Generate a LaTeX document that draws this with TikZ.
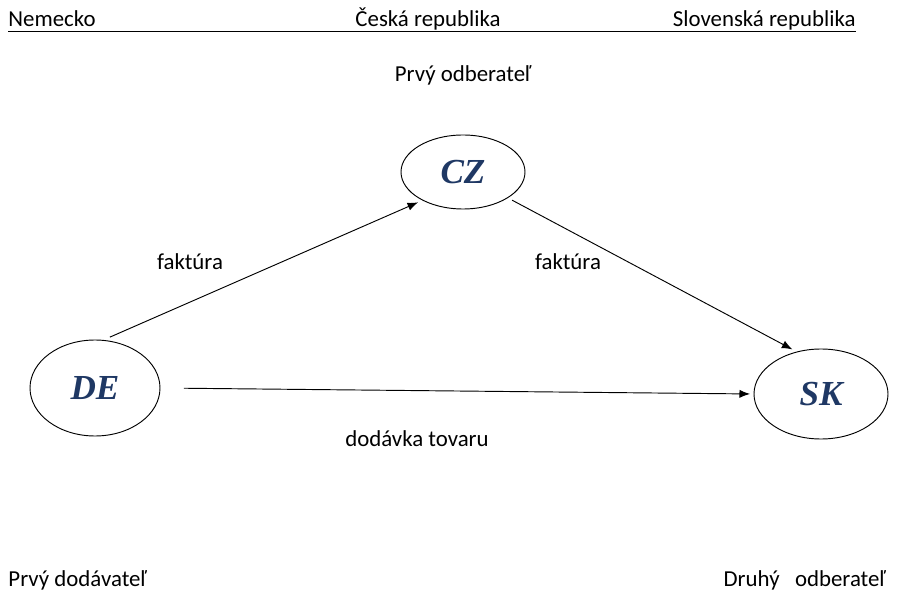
\documentclass[tikz,border=0pt]{standalone}
\usepackage{fontspec}
\setmainfont{Carlito}
\newfontfamily\labfont{Liberation Serif}
\usetikzlibrary{shapes.geometric, arrows.meta}
\definecolor{darkblue}{HTML}{1F3864}
\begin{document}
\begin{tikzpicture}[x=0.03cm, y=-0.03cm, line width=0.8pt,
    txt/.style = {font=\fontsize{19.5}{23}\selectfont, inner sep=0pt},
    land/.style = {draw, ellipse, font=\labfont\fontsize{30}{36}\selectfont\bfseries\itshape, text=darkblue},
    arr/.style = {-{Latex[length=9pt, width=7pt]}}]
    \useasboundingbox (0, 0) rectangle (898, 601);

    \draw[] (8, 31) -- (856, 31);
    \node[txt, anchor=base west] (nem) at (8, 27) {Nemecko};
    \node[txt, anchor=base] (cr) at (428, 27) {Česká republika};
    \node[txt, anchor=base east] (sr) at (856, 27) {Slovenská republika};
    \node[txt] (prvo) at (463, 75) {Prvý odberateľ};

    \node[land, minimum width=124*0.03cm, minimum height=74*0.03cm] (cz) at (463, 172) {CZ};
    \node[land, minimum width=130*0.03cm, minimum height=96*0.03cm] (de) at (95, 388) {DE};
    \node[land, minimum width=134*0.03cm, minimum height=90*0.03cm] (sk) at (821, 394) {SK};

    \draw[arr, shorten <=6pt, shorten >=4pt] (de.80) -- (cz.215);
    \draw[arr, shorten <=4pt, shorten >=4pt] (cz.-30) -- (sk.120);
    \draw[arr, shorten <=20pt, shorten >=3pt] (de.east) -- (sk.west);

    \node[txt] (f1) at (190, 262) {faktúra};
    \node[txt] (f2) at (568, 262) {faktúra};
    \node[txt] (dod) at (417, 439) {dodávka tovaru};
    \node[txt, anchor=west] (pd) at (8, 580) {Prvý dodávateľ};
    \node[txt, anchor=east] (do) at (886, 580) {Druhý\ \ \ odberateľ};
\end{tikzpicture}
\end{document}
